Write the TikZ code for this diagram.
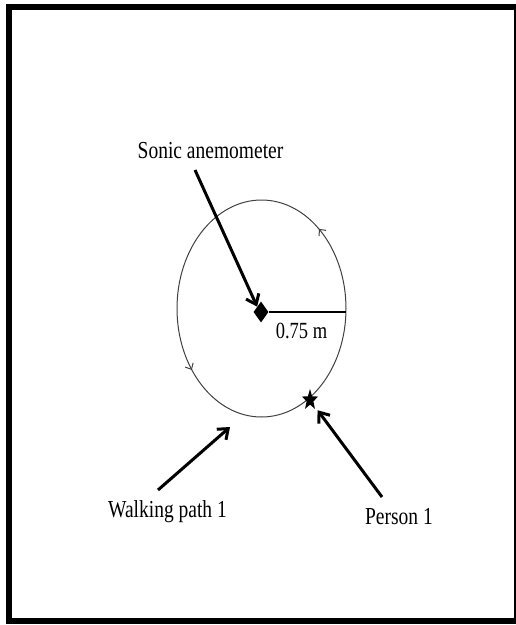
\documentclass[tikz,border=0pt]{standalone}
\usepackage{fontspec}
\setmainfont{Liberation Serif}
\usetikzlibrary{arrows.meta, shapes.geometric, decorations.markings}

\newcommand{\tallbox}[1]{\scalebox{1}[1.25]{#1}}

\begin{document}
\begin{tikzpicture}[x=1pt, y=-1pt,
    every node/.style={font=\fontsize{19.5}{22}\selectfont, inner sep=0pt},
    frameline/.style={draw=black, line width=6pt},
    walkpath/.style={draw=black!75, line width=1pt},
    pointer/.style={-{Straight Barb[length=9pt, width=14pt]}, line width=3pt},
    sensor/.style={diamond, fill=black, minimum width=15pt,
                   minimum height=21pt, inner sep=0pt},
    walker/.style={star, star points=5, star point ratio=2.4, fill=black,
                   minimum size=17pt, inner sep=0pt},
    dirtip/.style={decoration={markings,
        mark=at position 0.141 with {\arrow{Straight Barb[length=5pt, width=9pt]}},
        mark=at position 0.605 with {\arrow{Straight Barb[length=5pt, width=9pt]}}},
        postaction={decorate}}
]
\useasboundingbox (0,0) rectangle (516,625);

% --- frame ---
\draw[frameline] (8.5,7) rectangle (516.5,620.5);

% --- walking path (circle) ---
\draw[walkpath, dirtip] (346,308.5)
    arc[start angle=0, end angle=-360, x radius=84.5, y radius=108.5];

% --- sensor, radius, person ---
\node[sensor] (diam) at (261,312) {};
\coordinate (rim) at (346,312);
\draw[line width=1.5pt] (diam.east) -- (rim);
\node[anchor=base, font=\fontsize{18.5}{22}\selectfont] (radlab) at (301.5,338) {\tallbox{0.75 m}};

\begin{scope}[shift={(310,400)}, yscale=1.3]
  \node[walker, transform shape] (pers) at (0,0) {};
\end{scope}

% --- labels ---
\node[anchor=base] (sonic) at (210.5,158) {\tallbox{Sonic anemometer}};
\node[anchor=base] (walk) at (167.5,517) {\tallbox{Walking path 1}};
\node[anchor=base] (perslab) at (399,524) {\tallbox{Person 1}};

% --- pointers ---
\coordinate (sonictail) at (195,170);
\draw[pointer] (sonictail) -- (diam.north west);

\coordinate (walktail) at (158,490);
\coordinate (walktip) at (230,427);
\draw[pointer] (walktail) -- (walktip);

\coordinate (perstail) at (382,497);
\draw[pointer, shorten >=5pt] (perstail) -- (pers);
\end{tikzpicture}
\end{document}
